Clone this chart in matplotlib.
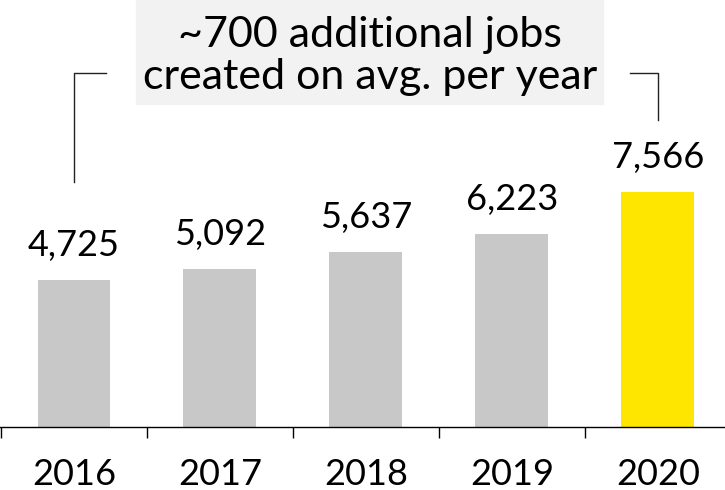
import matplotlib
matplotlib.use("Agg")
import matplotlib.pyplot as plt
from matplotlib.patches import Rectangle

years = ["2016", "2017", "2018", "2019", "2020"]
jobs = [4725, 5092, 5637, 6223, 7566]
bar_colors = ["#c8c8c8", "#c8c8c8", "#c8c8c8", "#c8c8c8", "#ffe600"]
callout = "~700 additional jobs\ncreated on avg. per year"

plt.rcParams["font.family"] = ["Lato", "DejaVu Sans"]

fig = plt.figure(figsize=(7.25, 4.9), dpi=100)
ax = fig.add_axes([0, 63 / 490, 1, 427 / 490])

x = list(range(len(years)))
ax.bar(x, jobs, width=0.5, color=bar_colors, zorder=2)

# value labels above each bar
for xi, v in zip(x, jobs):
    ax.text(xi, v + 580, f"{v:,}", ha="center", va="bottom", fontsize=26,
            color="black")

ax.set_xlim(-0.507, 4.46)
ax.set_ylim(0, 13770)

for side in ["top", "left", "right"]:
    ax.spines[side].set_visible(False)
ax.spines["bottom"].set_linewidth(1.0)
ax.set_yticks([])

# year labels at bar centres, separator ticks between categories
ax.set_xticks(x)
ax.set_xticklabels(years, fontsize=26)
ax.tick_params(axis="x", which="major", length=0, pad=22)
ax.set_xticks([i - 0.5 for i in x], minor=True)
ax.tick_params(axis="x", which="minor", length=8, width=1.0, direction="out")

# bracket from first bar to last bar
ax.plot([0, 0, 0.22], [7900, 11400, 11400], color="#222222", lw=1.0,
        clip_on=False)
ax.plot([3.81, 4.0, 4.0], [11400, 11400, 9900], color="#222222", lw=1.0,
        clip_on=False)

# callout box on top
fig.patches.append(Rectangle((136 / 725, 1 - 104 / 490), 467 / 725, 104 / 490,
                             transform=fig.transFigure, color="#f2f2f2",
                             zorder=0))
fig.text(370 / 725, 1 - 56 / 490, callout, ha="center", va="center",
         fontsize=31, linespacing=1.15, color="black")

fig.savefig("out.png", dpi=100)
